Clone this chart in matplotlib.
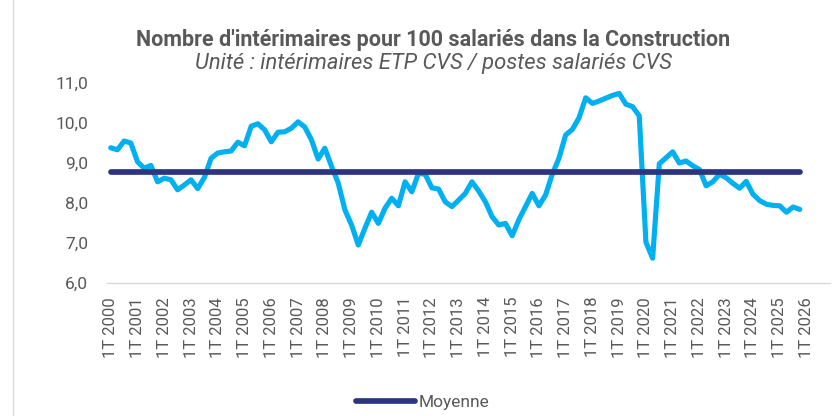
import matplotlib
matplotlib.use("Agg")
import matplotlib.pyplot as plt
from matplotlib.lines import Line2D
import numpy as np

plt.rcParams['font.family'] = ['Roboto', 'DejaVu Sans']

# Quarterly series, 1T 2000 to 4T 2025
years = list(range(2000, 2027))
tick_labels = [f"1T {y}" for y in years]

ratio = [
    9.38, 9.33, 9.55, 9.50, 9.03, 8.87, 8.94, 8.53, 8.62, 8.58,
    8.33, 8.45, 8.58, 8.36, 8.64, 9.12, 9.25, 9.28, 9.30, 9.52,
    9.43, 9.92, 9.98, 9.83, 9.53, 9.77, 9.78, 9.87, 10.03, 9.90,
    9.58, 9.10, 9.37, 8.92, 8.50, 7.83, 7.45, 6.95, 7.37, 7.77,
    7.49, 7.87, 8.12, 7.93, 8.53, 8.28, 8.74, 8.72, 8.38, 8.35,
    8.03, 7.91, 8.07, 8.24, 8.53, 8.30, 8.03, 7.66, 7.45, 7.49,
    7.18, 7.58, 7.91, 8.24, 7.93, 8.20, 8.72, 9.12, 9.70, 9.84,
    10.13, 10.63, 10.49, 10.55, 10.62, 10.69, 10.74, 10.47, 10.41, 10.18,
    7.02, 6.62, 8.98, 9.13, 9.28, 9.00, 9.05, 8.93, 8.84, 8.43,
    8.53, 8.72, 8.63, 8.49, 8.37, 8.54, 8.22, 8.06, 7.97, 7.94,
    7.93, 7.77, 7.90, 7.84,
]
moyenne = 8.78

TEXT = '#595959'
CYAN = '#00B0F0'
NAVY = '#2D3580'

fig = plt.figure(figsize=(8.34, 4.16), dpi=100)
ax = fig.add_axes([107.4 / 834, 133 / 416, 722.5 / 834, 200 / 416])

x = np.arange(len(ratio))
ax.plot(x, ratio, color=CYAN, lw=3.7, solid_capstyle='round',
        solid_joinstyle='round', zorder=3, label='_nolegend_')
ax.plot(x, [moyenne] * len(ratio), color=NAVY, lw=4.1,
        solid_capstyle='round', zorder=4, label='Moyenne')

ax.set_xlim(-0.5, 107.5)
ax.set_ylim(6, 11)

ax.set_xticks(np.arange(0, 4 * len(years), 4))
ax.set_xticklabels(tick_labels, rotation=90, fontsize=12, color=TEXT)
yt = np.arange(6, 11.01, 1.0)
ax.set_yticks(yt)
ax.set_yticklabels([f"{v:.1f}".replace('.', ',') for v in yt],
                   fontsize=12.5, color=TEXT)
ax.tick_params(axis='x', length=0, pad=10)
ax.tick_params(axis='y', length=0, pad=14)

for side in ('top', 'right', 'left'):
    ax.spines[side].set_visible(False)
ax.spines['bottom'].set_color('#d9d9d9')
ax.spines['bottom'].set_linewidth(1.0)

fig.text(433 / 834, 1 - 40 / 416,
         "Nombre d'intérimaires pour 100 salariés dans la Construction",
         ha='center', va='center', fontsize=15.5, fontweight='bold', color=TEXT)
fig.text(433 / 834, 1 - 64 / 416,
         "Unité : intérimaires ETP CVS / postes salariés CVS",
         ha='center', va='center', fontsize=15.8, style='italic', color=TEXT)

leg = fig.legend(loc='center', bbox_to_anchor=(423 / 834, 13.3 / 416),
                 frameon=False, handlelength=3.4, handletextpad=0.2,
                 fontsize=12.5)
for t in leg.get_texts():
    t.set_color(TEXT)

fig.add_artist(Line2D([12.5 / 834, 12.5 / 834], [0, 1],
                      transform=fig.transFigure, color='#d9d9d9', lw=1))

fig.savefig('out.png', dpi=100)
